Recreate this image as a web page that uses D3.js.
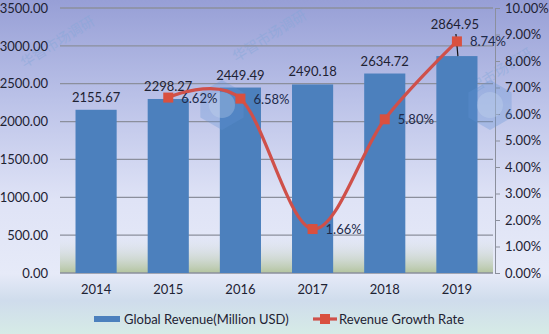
<!DOCTYPE html>
<html><head><meta charset="utf-8">
<script src="https://cdn.jsdelivr.net/npm/d3@7"></script>
<style>
html,body{margin:0;padding:0;}
body{width:549px;height:334px;overflow:hidden;}
svg{display:block;font-family:Lato,"Open Sans",sans-serif;}
</style></head>
<body>
<svg id="chart" width="549" height="334"></svg>
<script>
const years = ["2014","2015","2016","2017","2018","2019"];
const revenue = [2155.67, 2298.27, 2449.49, 2490.18, 2634.72, 2864.95];
const growth = [null, 6.62, 6.58, 1.66, 5.80, 8.74];
const leftTicks = [0,500,1000,1500,2000,2500,3000,3500];
const rightTicks = [0,1,2,3,4,5,6,7,8,9,10];
const legendLabels = ["Global Revenue(Million USD)", "Revenue Growth Rate"];
const watermarkText = "华智市场调研";

const W = 549, H = 334;
const m = {l:60, r:56, t:8, b:61};
const svg = d3.select("#chart");
const defs = svg.append("defs");

const bg = defs.append("linearGradient").attr("id","bg").attr("x1",0).attr("y1",0).attr("x2",0).attr("y2",1);
[[0,"#979fd6"],[0.3,"#bbc2e8"],[0.6,"#dfe3f6"],[0.82,"#e6eaf8"],[0.9,"#cfdcec"],[1,"#d6ebe6"]]
  .forEach(([o,c])=>bg.append("stop").attr("offset",o).attr("stop-color",c));
svg.append("rect").attr("width",W).attr("height",H).attr("fill","url(#bg)");

const x = d3.scaleBand().domain(years).range([m.l, W-m.r]).paddingInner(0.43).paddingOuter(0.215);
const y = d3.scaleLinear().domain([0,3500]).range([H-m.b, m.t]);
const y2 = d3.scaleLinear().domain([0,10]).range([H-m.b, m.t]);

// plot area bottom green tint
const pg = defs.append("linearGradient").attr("id","pg").attr("x1",0).attr("y1",0).attr("x2",0).attr("y2",1);
[[0,"#dfe4f2",0],[1,"#b3c49e",1]].forEach(([o,c,a])=>pg.append("stop").attr("offset",o).attr("stop-color",c).attr("stop-opacity",a));
svg.append("rect").attr("x",m.l).attr("y",y(500)).attr("width",W-m.r-m.l).attr("height",y(0)-y(500)).attr("fill","url(#pg)");

// watermarks (faint)
[[60,46],[272,40],[498,78]].forEach(([wx,wy])=>{
  svg.append("text").attr("transform",`translate(${wx},${wy}) rotate(-32)`).attr("text-anchor","middle")
    .attr("font-family","'Noto Sans CJK SC'").attr("font-size",14).attr("fill","#7fa6d8").attr("opacity",0.4).text(watermarkText);
});

// gridlines
svg.append("g").selectAll("line").data(leftTicks).join("line")
  .attr("x1",m.l).attr("x2",W-m.r).attr("y1",d=>y(d)).attr("y2",d=>y(d))
  .attr("stroke","#8b8f9c").attr("stroke-width",1.3);

// left axis
const gl = svg.append("g").attr("transform",`translate(${m.l},0)`)
  .call(d3.axisLeft(y).tickValues(leftTicks).tickFormat(d3.format(".2f")).tickSize(0).tickPadding(12));
gl.select(".domain").remove();
gl.selectAll("text").attr("font-size",13).attr("fill","#1e2233").attr("font-family","Lato");

// right axis
const gr = svg.append("g").attr("transform",`translate(${W-m.r+2},0)`)
  .call(d3.axisRight(y2).tickValues(rightTicks).tickFormat(d=>d.toFixed(2)+"%").tickSize(5).tickPadding(5));
gr.select(".domain").attr("stroke","#8b8f9c");
gr.selectAll(".tick line").attr("stroke","#8b8f9c");
gr.selectAll("text").attr("font-size",13).attr("fill","#1e2233").attr("font-family","Lato");

// bottom axis labels
const gb = svg.append("g").attr("transform",`translate(0,${H-m.b})`)
  .call(d3.axisBottom(x).tickSize(0).tickPadding(12));
gb.select(".domain").remove();
gb.selectAll("text").attr("font-size",13).attr("fill","#1e2233").attr("font-family","Lato");

// bars
svg.append("g").selectAll("rect").data(years).join("rect")
  .attr("x",d=>x(d)).attr("width",x.bandwidth())
  .attr("y",(d,i)=>y(revenue[i])).attr("height",(d,i)=>y(0)-y(revenue[i]))
  .attr("fill","#4c80bd");

// logos (faint)
[[222,105],[490,105]].forEach(([lx,ly])=>{
  const hex = d3.range(6).map(k=>[lx+25*Math.cos(Math.PI/3*k+Math.PI/6), ly+25*Math.sin(Math.PI/3*k+Math.PI/6)]);
  svg.append("polygon").attr("points",hex.map(p=>p.join(",")).join(" ")).attr("fill","#5f93d4").attr("opacity",0.3);
  svg.append("circle").attr("cx",lx).attr("cy",ly).attr("r",13).attr("fill","#c9daf0").attr("opacity",0.3);
});

// bar labels
const barLabelY = (i)=> i===5 ? 29 : y(revenue[i]) - 8;
svg.append("g").selectAll("text").data(years).join("text")
  .attr("x",(d,i)=>x(d)+x.bandwidth()/2 - (i===5?2:0)).attr("y",(d,i)=>barLabelY(i))
  .attr("text-anchor","middle").attr("font-size",13).attr("fill","#1e2233").attr("font-family","Lato")
  .text((d,i)=>revenue[i].toFixed(2));
// leader line for 2019
svg.append("line").attr("x1",x(years[5])+x.bandwidth()/2-1).attr("y1",34)
  .attr("x2",x(years[5])+x.bandwidth()/2+1).attr("y2",y(revenue[5])).attr("stroke","#111").attr("stroke-width",1.2);

// growth line
const pts = years.map((d,i)=>({x:x(d)+x.bandwidth()/2, v:growth[i]})).filter(p=>p.v!=null);
const line = d3.line().x(p=>p.x).y(p=>y2(p.v)).curve(d3.curveCatmullRom.alpha(0));
svg.append("path").attr("d",line(pts)).attr("fill","none").attr("stroke","#cf504a").attr("stroke-width",3.2);
svg.append("g").selectAll("rect").data(pts).join("rect")
  .attr("x",p=>p.x-5).attr("y",p=>y2(p.v)-5).attr("width",10).attr("height",10).attr("fill","#d9503f");
svg.append("g").selectAll("text").data(pts).join("text")
  .attr("x",p=>p.x+13).attr("y",p=>y2(p.v)+5)
  .attr("font-size",13).attr("fill","#1e2a4a").attr("font-family","Lato")
  .text(p=>p.v.toFixed(2)+"%");

// legend
const lg = svg.append("g");
lg.append("rect").attr("x",94).attr("y",316).attr("width",26).attr("height",6).attr("fill","#4c80bd");
lg.append("text").attr("x",124).attr("y",324).attr("font-size",13).attr("fill","#1e2233").attr("font-family","Lato").text(legendLabels[0]);
lg.append("line").attr("x1",313).attr("x2",337).attr("y1",319).attr("y2",319).attr("stroke","#cf504a").attr("stroke-width",3.2);
lg.append("rect").attr("x",320).attr("y",314).attr("width",10).attr("height",10).attr("fill","#d9503f");
lg.append("text").attr("x",339).attr("y",324).attr("font-size",13).attr("fill","#1e2233").attr("font-family","Lato").text(legendLabels[1]);
</script>
</body></html>
